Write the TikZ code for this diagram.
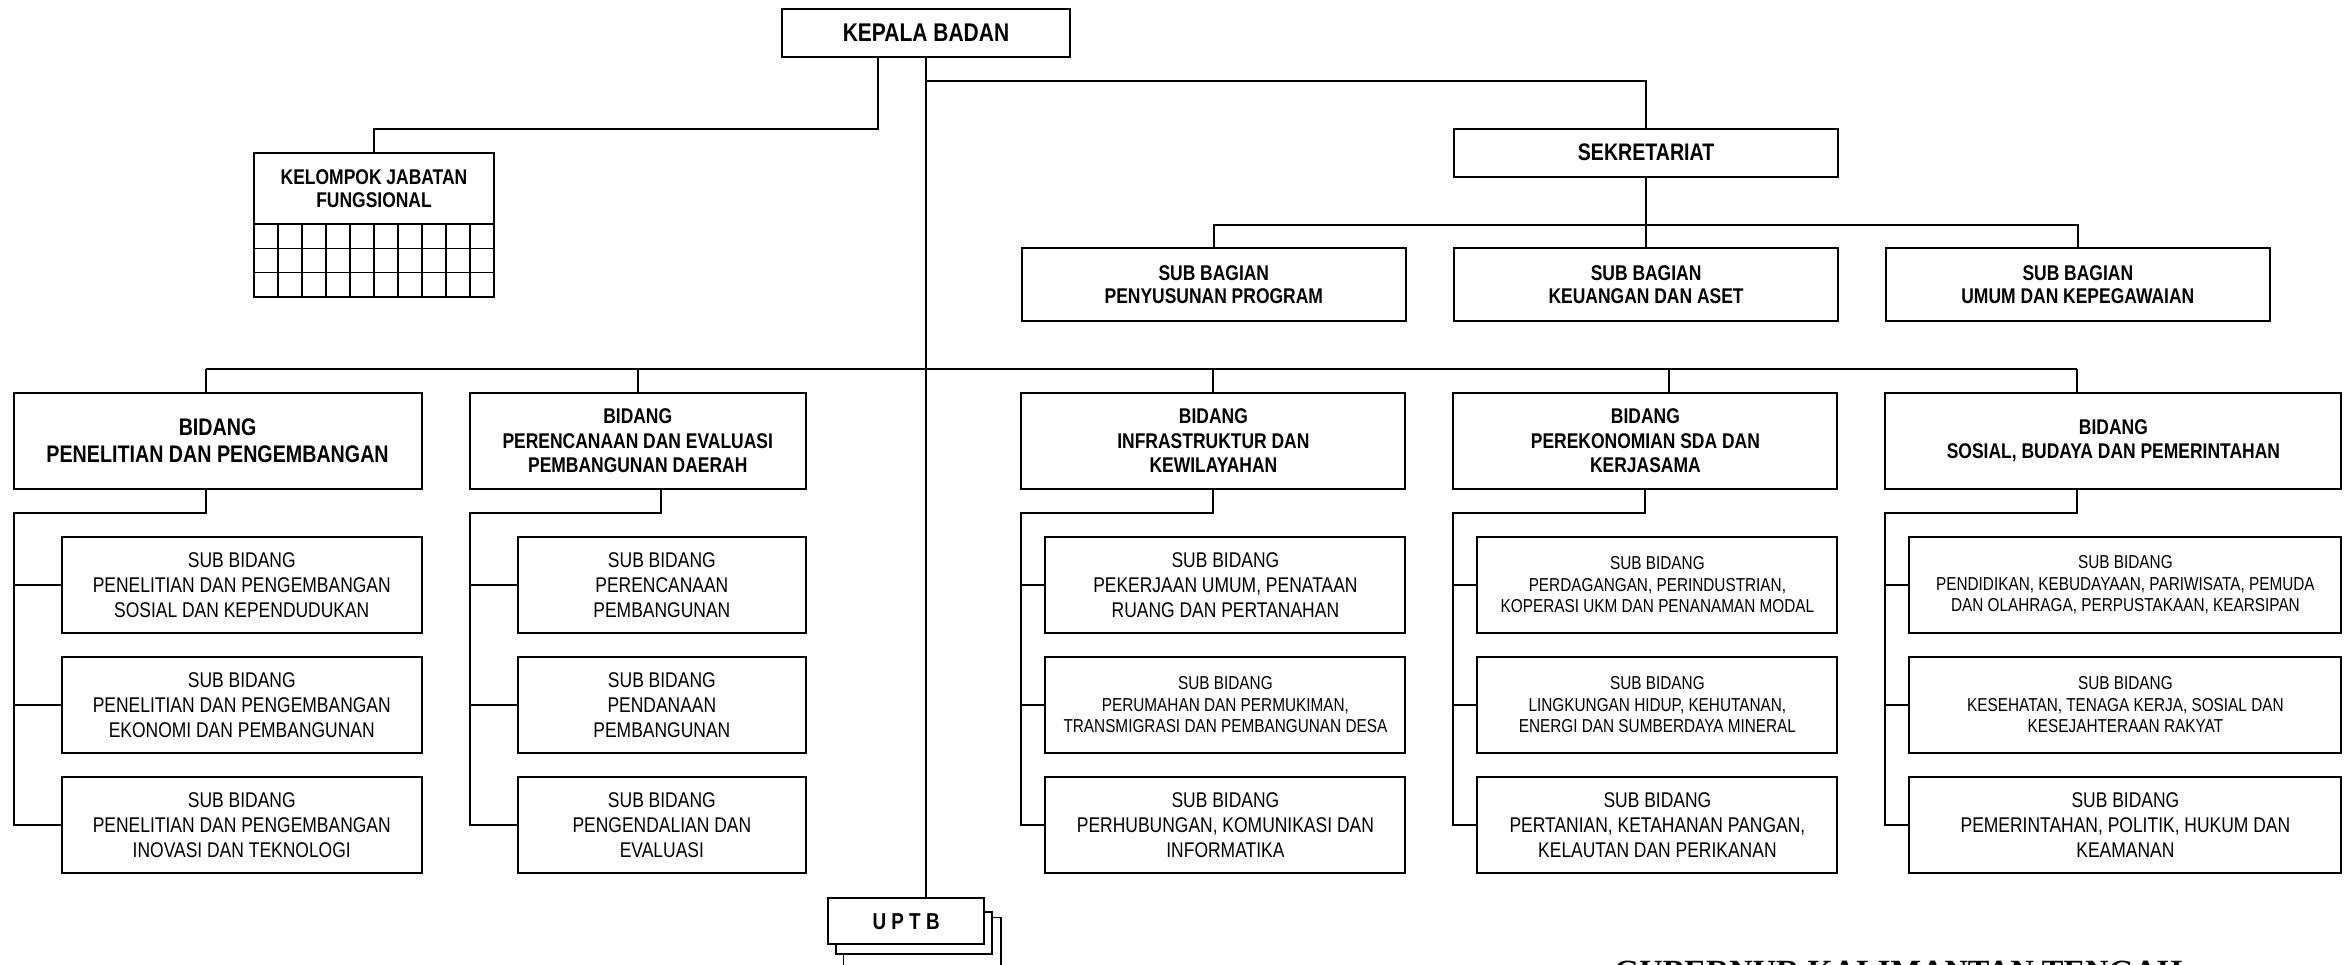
\documentclass[tikz,border=0pt]{standalone}
\usepackage{fontspec}
\setmainfont{Liberation Sans}[FakeStretch=0.82]
\newfontfamily\capfont{Liberation Serif}
\usetikzlibrary{calc}

\begin{document}
\begin{tikzpicture}[x=1pt,y=-1pt]
    \tikzstyle{box}=[draw, line width=2pt, fill=white, inner sep=0pt, outer sep=0pt, align=center]
    \tikzstyle{head}=[box, font=\bfseries\fontsize{21.3}{24.6}\selectfont]
    \tikzstyle{sub}=[box, minimum height=96, font=\fontsize{21.3}{25}\selectfont]
    \tikzstyle{subsmall}=[sub, font=\fontsize{18.7}{21.4}\selectfont]
    \tikzstyle{line}=[line width=2pt]
    \tikzstyle{thinline}=[line width=1.6pt]
    \useasboundingbox (0,0) rectangle (2344,964);

    \node[head, minimum width=288, minimum height=48, font=\bfseries\fontsize{25.6}{28}\selectfont] (kb) at (926,33) {KEPALA BADAN};
    \node[head, minimum width=240, minimum height=71.6, font=\bfseries\fontsize{21.3}{22.5}\selectfont] (kjf) at (374,188.5) {KELOMPOK JABATAN\\FUNGSIONAL};
    \draw[line width=2pt] (kjf.south west) rectangle ++(240,72.4);
    \foreach \k in {1,...,9}
        \draw[line width=1.7pt] ([xshift=\k*24pt]kjf.south west) -- ++(0,72.4);
    \foreach \r in {1,2}
        \draw[line width=1.7pt] ([yshift=-\r*24.13pt]kjf.south west) -- ++(240,0);
    \node[head, minimum width=384.6, minimum height=48, font=\bfseries\fontsize{23.9}{26}\selectfont] (sek) at (1646.1,152.7) {SEKRETARIAT};
    \foreach \n/\x/\txt in {sb1/1213.8/{SUB BAGIAN\\PENYUSUNAN PROGRAM},sb2/1646.1/{SUB BAGIAN\\KEUANGAN DAN ASET},sb3/2077.8/{SUB BAGIAN\\UMUM DAN KEPEGAWAIAN}}
        \node[head, minimum width=384, minimum height=72.7, font=\bfseries\fontsize{21.3}{23.3}\selectfont] (\n) at (\x,284.7) {\txt};

    \node[head, minimum width=408, minimum height=95.7, font=\bfseries\fontsize{24}{27.9}\selectfont] (b1) at (217.6,440.75) {BIDANG\\PENELITIAN DAN PENGEMBANGAN};
    \foreach \n/\x/\w/\txt in {b2/637.75/336.5/{BIDANG\\PERENCANAAN DAN EVALUASI\\PEMBANGUNAN DAERAH},b3/1213.4/384/{BIDANG\\INFRASTRUKTUR DAN\\KEWILAYAHAN},b4/1645.4/384/{BIDANG\\PEREKONOMIAN SDA DAN\\KERJASAMA},b5/2113.4/456/{BIDANG\\SOSIAL, BUDAYA DAN PEMERINTAHAN}}
        \node[head, minimum width=\w, minimum height=95.7] (\n) at (\x,440.75) {\txt};

    \foreach \n/\x/\y/\w/\txt in {
        s11/241.75/584.8/360/{SUB BIDANG\\PENELITIAN DAN PENGEMBANGAN\\SOSIAL DAN KEPENDUDUKAN},
        s12/241.75/704.8/360/{SUB BIDANG\\PENELITIAN DAN PENGEMBANGAN\\EKONOMI DAN PEMBANGUNAN},
        s13/241.75/824.8/360/{SUB BIDANG\\PENELITIAN DAN PENGEMBANGAN\\INOVASI DAN TEKNOLOGI},
        s21/661.85/584.8/288.3/{SUB BIDANG\\PERENCANAAN\\PEMBANGUNAN},
        s22/661.85/704.8/288.3/{SUB BIDANG\\PENDANAAN\\PEMBANGUNAN},
        s23/661.85/824.8/288.3/{SUB BIDANG\\PENGENDALIAN DAN\\EVALUASI},
        s31/1225.4/584.8/360/{SUB BIDANG\\PEKERJAAN UMUM, PENATAAN\\RUANG DAN PERTANAHAN},
        s33/1225.4/824.8/360/{SUB BIDANG\\PERHUBUNGAN, KOMUNIKASI DAN\\INFORMATIKA},
        s43/1657.4/824.8/360/{SUB BIDANG\\PERTANIAN, KETAHANAN PANGAN,\\KELAUTAN DAN PERIKANAN},
        s53/2125.4/824.8/432/{SUB BIDANG\\PEMERINTAHAN, POLITIK, HUKUM DAN\\KEAMANAN}}
        \node[sub, minimum width=\w] (\n) at (\x,\y) {\txt};
    \foreach \n/\x/\y/\w/\txt in {
        s32/1225.4/704.8/360/{SUB BIDANG\\PERUMAHAN DAN PERMUKIMAN,\\TRANSMIGRASI DAN PEMBANGUNAN DESA},
        s41/1657.4/584.8/360/{SUB BIDANG\\PERDAGANGAN, PERINDUSTRIAN,\\KOPERASI UKM DAN PENANAMAN MODAL},
        s42/1657.4/704.8/360/{SUB BIDANG\\LINGKUNGAN HIDUP, KEHUTANAN,\\ENERGI DAN SUMBERDAYA MINERAL},
        s51/2125.4/584.8/432/{SUB BIDANG\\PENDIDIKAN, KEBUDAYAAN, PARIWISATA, PEMUDA\\DAN OLAHRAGA, PERPUSTAKAAN, KEARSIPAN},
        s52/2125.4/704.8/432/{SUB BIDANG\\KESEHATAN, TENAGA KERJA, SOSIAL DAN\\KESEJAHTERAAN RAKYAT}}
        \node[subsmall, minimum width=\w] (\n) at (\x,\y) {\txt};

    \node[box, line width=1.4pt, minimum width=157.5, minimum height=49.7] (uptb3) at (922.25,942.15) {};
    \node[box, line width=1.7pt, minimum width=156.3, minimum height=42.3] (uptb2) at (914,932.85) {};
    \node[box, line width=1.7pt, minimum width=155.7, minimum height=46, font=\bfseries\fontsize{23}{26}\selectfont] (uptb) at (906.1,921.3) {U P T B};

    \draw[thinline] (kb.south) -- (kb.south |- uptb.north);
    \draw[thinline] ([xshift=-48pt]kb.south) -- ++(0,71.7) -| (kjf.north);
    \draw[thinline] (kb.south) ++(0,23.7) -| (sek.north);
    \draw[line] (sek.south) -- (sb2.north);
    \draw[line] (sb1.north) -- ++(0,-23.3) -| (sb3.north);

    \foreach \i/\tx/\ux in {1/206/206,2/637.5/661.4,3/1213.4/1213.4,4/1669.4/1645.4,5/2077.4/2077.4} {
        \coordinate (t\i) at (\tx,368.6);
        \coordinate (u\i) at (\ux,512.9);
        \draw[line] (t\i) -- (t\i |- b\i.north);
        \draw[line] (u\i |- b\i.south) -- (u\i) -- (b\i.west |- u\i) -- (b\i.west |- s\i3.west) -- (s\i3.west);
        \foreach \r in {1,2}
            \draw[line] (b\i.west |- s\i\r.west) -- (s\i\r.west);
    }
    \draw[line] (t1) -- (t5);

    \node[anchor=base west, inner sep=0pt, font=\capfont\bfseries\fontsize{32.4}{36}\selectfont] (gub) at (1614,982.5) {GUBERNUR KALIMANTAN TENGAH};
\end{tikzpicture}
\end{document}
